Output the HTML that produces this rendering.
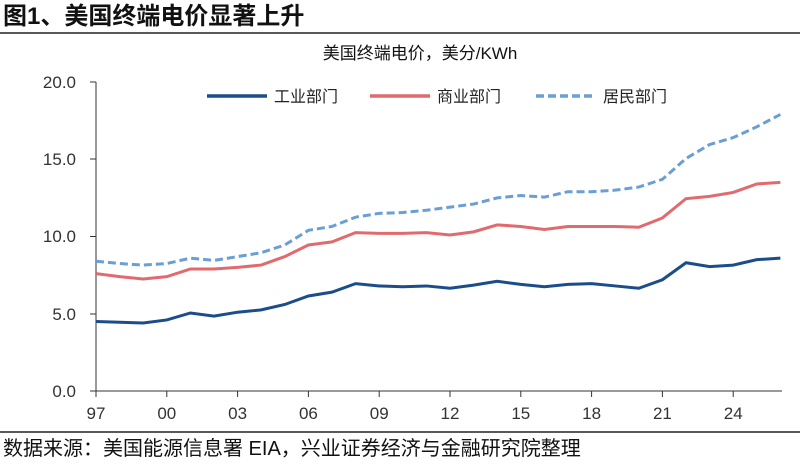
<!DOCTYPE html>
<html><head><meta charset="utf-8"><style>
body{margin:0;width:800px;height:463px;background:#fff;overflow:hidden;font-family:"Liberation Sans","Noto Sans CJK SC",sans-serif}
</style></head><body>
<svg width="800" height="463" xmlns="http://www.w3.org/2000/svg" font-family="Liberation Sans, Noto Sans CJK SC, sans-serif">
<text x="3" y="24" font-size="24" font-weight="bold" fill="#111">图1、美国终端电价显著上升</text>
<line x1="0" y1="33" x2="800" y2="33" stroke="#222" stroke-width="1.5"/>
<text x="420" y="59" font-size="17" text-anchor="middle" fill="#111">美国终端电价，美分/KWh</text>
<g font-size="17" fill="#333" text-anchor="end">
<text x="76" y="88">20.0</text><text x="76" y="165">15.0</text><text x="76" y="242">10.0</text><text x="76" y="320">5.0</text><text x="76" y="397">0.0</text>
</g>
<g stroke="#333" stroke-width="1">
<line x1="96" y1="82" x2="96" y2="391"/><line x1="90" y1="82" x2="96" y2="82"/><line x1="90" y1="159" x2="96" y2="159"/><line x1="90" y1="236.5" x2="96" y2="236.5"/><line x1="90" y1="314" x2="96" y2="314"/><line x1="90" y1="391" x2="782" y2="391"/>
</g>
<g id="xt" font-size="17" fill="#333" text-anchor="middle"></g>
<g id="lines"></g>
<g font-size="16" fill="#222">
<line x1="207" y1="96" x2="267" y2="96" stroke="#1a4d8a" stroke-width="3.5"/><text x="274" y="102">工业部门</text>
<line x1="370" y1="96" x2="430" y2="96" stroke="#e06a6e" stroke-width="3.5"/><text x="437" y="102">商业部门</text>
<line x1="536" y1="96" x2="596" y2="96" stroke="#6a9fd4" stroke-width="3.5" stroke-dasharray="8,4"/><text x="603" y="102">居民部门</text>
</g>
<line x1="0" y1="432" x2="800" y2="432" stroke="#222" stroke-width="1.5"/>
<text x="3" y="455" font-size="20" fill="#111">数据来源：美国能源信息署 EIA，兴业证券经济与金融研究院整理</text>
</svg>
<script>
var ns="http://www.w3.org/2000/svg";
var X=function(i){return 96+i*23.6}, Y=function(v){return 391-v*15.45};
var xt=document.getElementById('xt');
["97","00","03","06","09","12","15","18","21","24"].forEach(function(l,k){
 var x=X(k*3);var ln=document.createElementNS(ns,'line');ln.setAttribute('x1',x);ln.setAttribute('x2',x);ln.setAttribute('y1',391);ln.setAttribute('y2',397);ln.setAttribute('stroke','#333');xt.appendChild(ln);
 var t=document.createElementNS(ns,'text');t.setAttribute('x',x);t.setAttribute('y',419);t.textContent=l;xt.appendChild(t);});
var data=[
["#6a9fd4","8,4",[8.4,8.25,8.15,8.25,8.6,8.45,8.7,8.95,9.45,10.4,10.65,11.25,11.5,11.55,11.7,11.9,12.1,12.5,12.65,12.55,12.9,12.9,13.0,13.2,13.7,15.05,15.95,16.4,17.1,17.9]],
["#e06a6e","",[7.6,7.4,7.25,7.4,7.9,7.9,8.0,8.15,8.7,9.45,9.65,10.25,10.2,10.2,10.25,10.1,10.3,10.75,10.65,10.45,10.65,10.65,10.65,10.6,11.2,12.45,12.6,12.85,13.4,13.5]],
["#1a4d8a","",[4.5,4.45,4.4,4.6,5.05,4.85,5.1,5.25,5.6,6.15,6.4,6.95,6.8,6.75,6.8,6.65,6.85,7.1,6.9,6.75,6.9,6.95,6.8,6.65,7.2,8.3,8.05,8.15,8.5,8.6]]];
var g=document.getElementById('lines');
data.forEach(function(d){var p=document.createElementNS(ns,'polyline');
p.setAttribute('points',d[2].map(function(v,i){return X(i)+','+Y(v)}).join(' '));
p.setAttribute('fill','none');p.setAttribute('stroke',d[0]);p.setAttribute('stroke-width','3');if(d[1])p.setAttribute('stroke-dasharray',d[1]);g.appendChild(p);});
</script>
</body></html>
